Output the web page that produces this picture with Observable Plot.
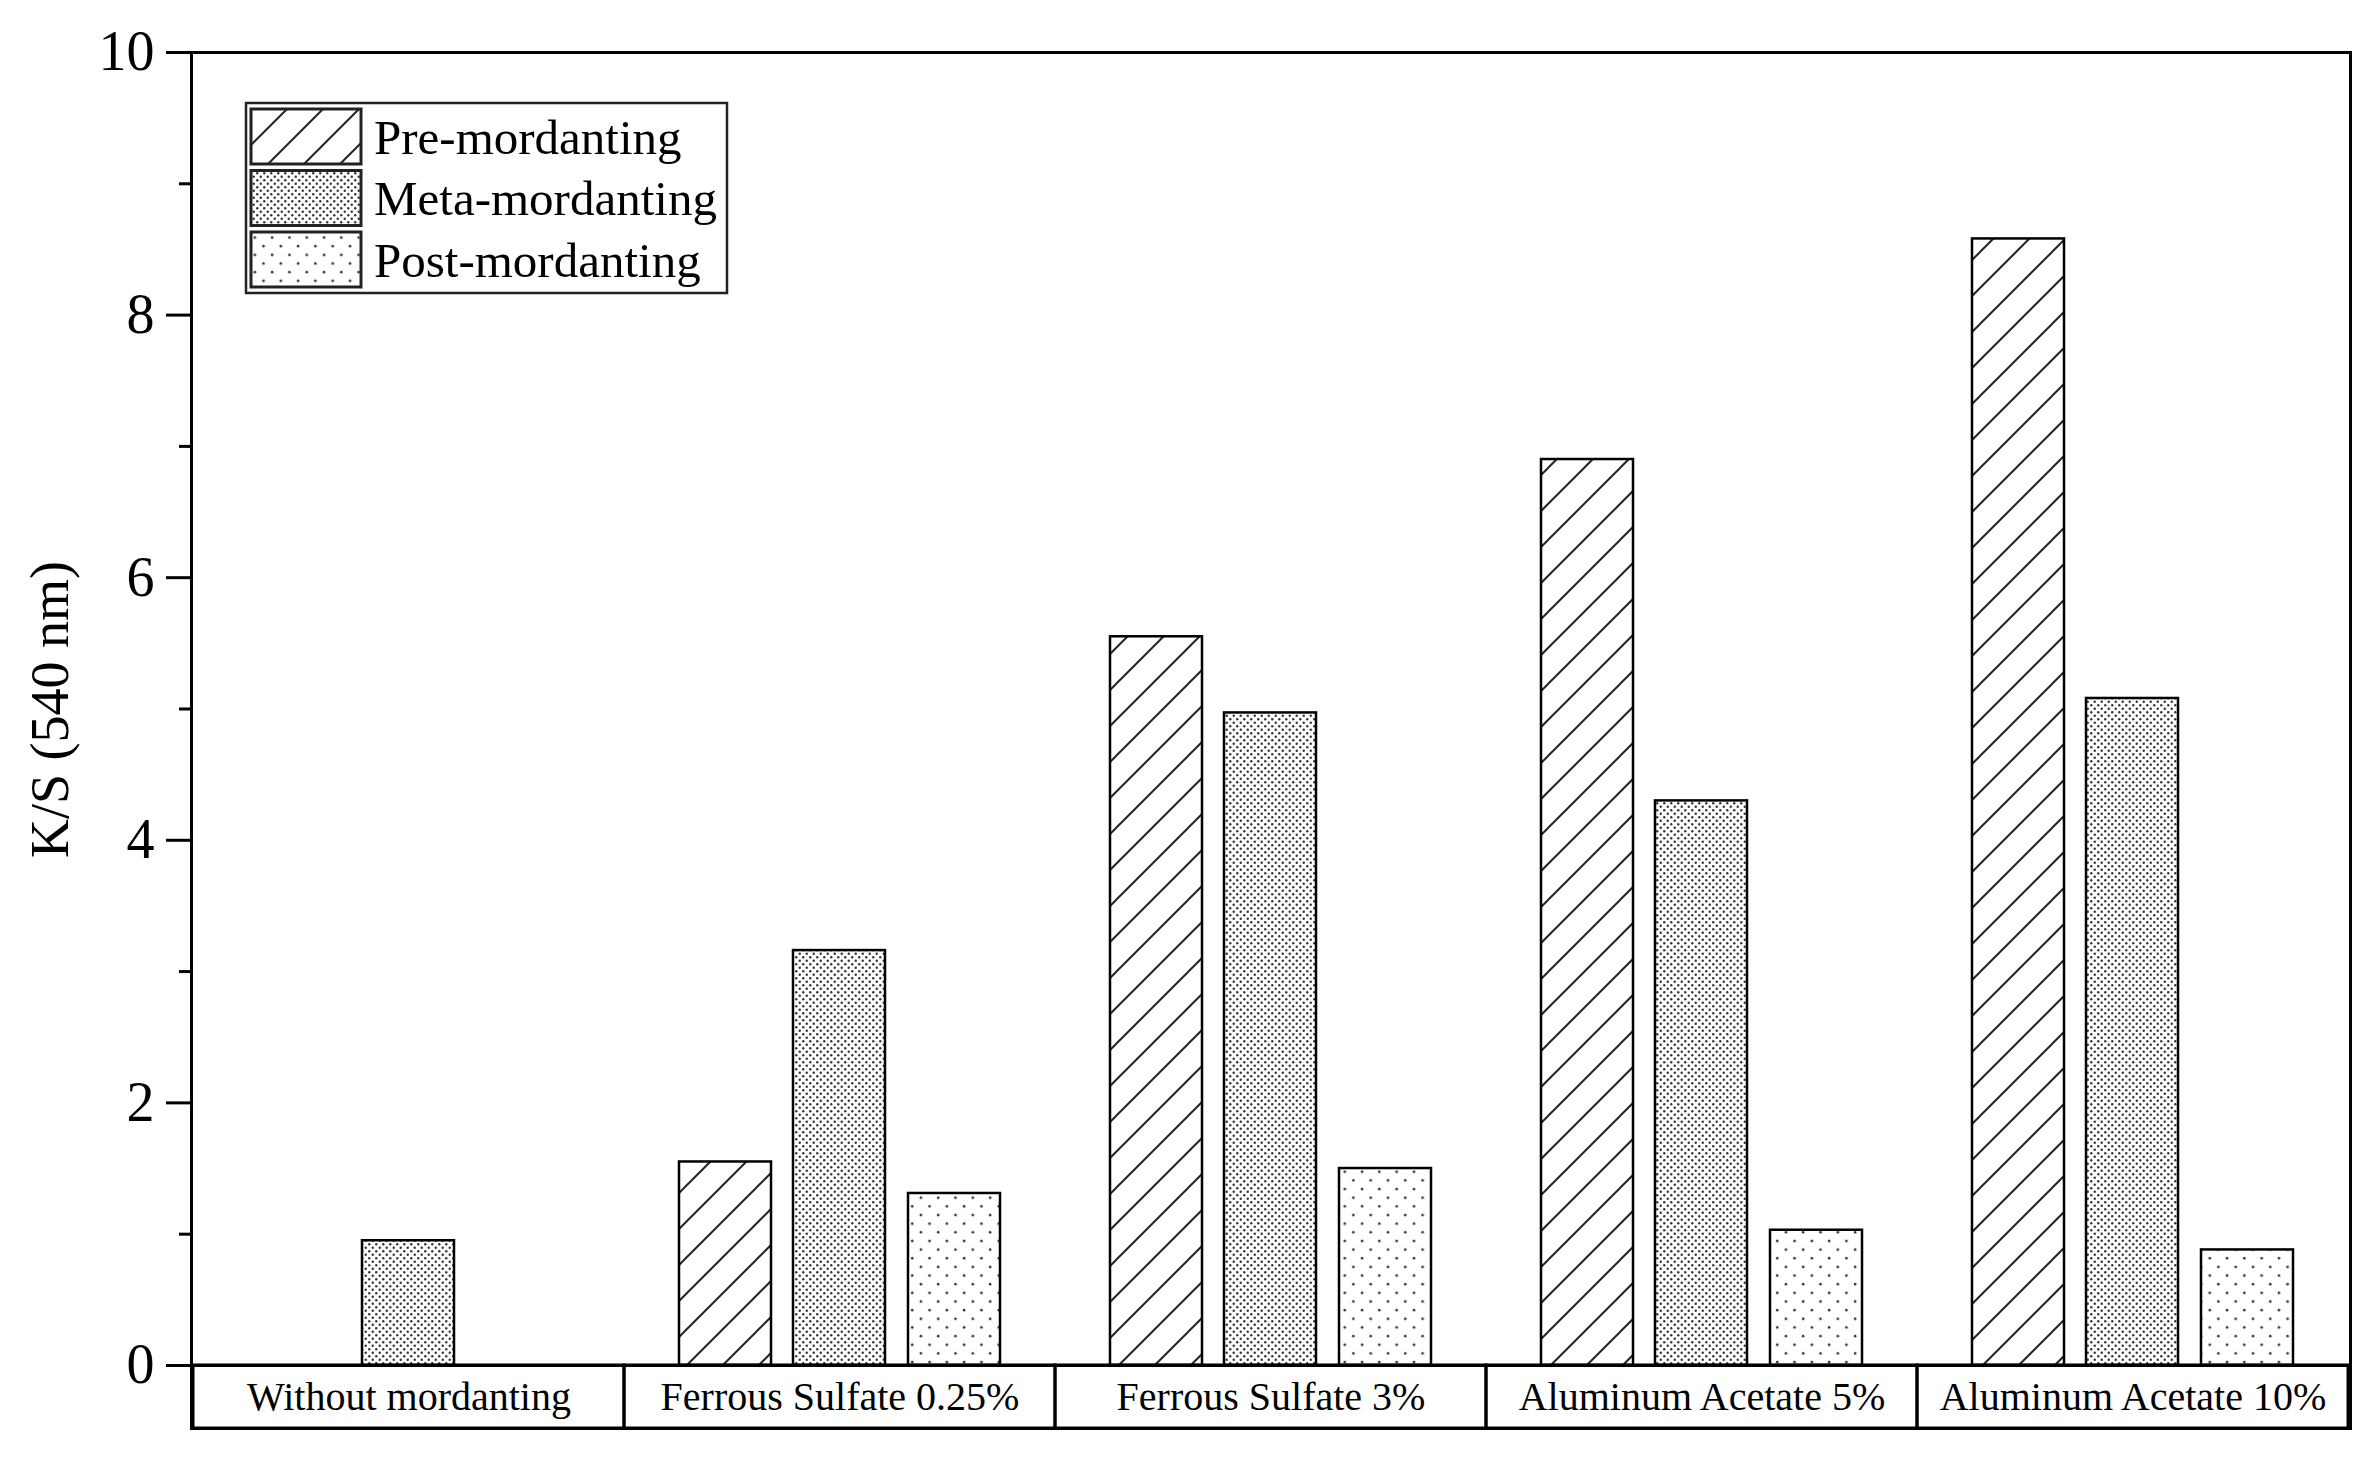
<!DOCTYPE html>
<html><head><meta charset="utf-8">
<script src="https://cdn.jsdelivr.net/npm/d3@7"></script>
<script src="https://cdn.jsdelivr.net/npm/@observablehq/plot@0.6"></script>
<style>body{margin:0;background:#fff} #chart{width:2380px;height:1463px}</style>
</head><body><div id="chart"></div>
<script>
const categories = ["Without mordanting","Ferrous Sulfate 0.25%","Ferrous Sulfate 3%","Aluminum Acetate 5%","Aluminum Acetate 10%"];
const series = ["Pre-mordanting","Meta-mordanting","Post-mordanting"];
const preValues = [null, 1.55, 5.55, 6.90, 8.58];
const metaValues = [0.95, 3.16, 4.97, 4.30, 5.08];
const postValues = [null, 1.31, 1.50, 1.03, 0.88];
const yTicks = [0, 2, 4, 6, 8, 10];
const yMinorTicks = [1, 3, 5, 7, 9];
const yLabel = "K/S (540 nm)";
const patternIds = ["hatch", "dense", "sparse"];

const valuesBySeries = [preValues, metaValues, postValues];
const rows = categories.flatMap((c, i) => series.map((s, j) => ({category: c, series: s, value: valuesBySeries[j][i]})));

const font = "'Liberation Serif','Times New Roman',serif";
const insets = [[55, 284], [169, 170], [284, 55]];

const barMarks = series.map((s, j) => Plot.barY(rows.filter(d => d.series === s), {
  x: "category", y: "value",
  fill: `url(#${patternIds[j]})`, stroke: "black", strokeWidth: 2.5,
  insetLeft: insets[j][0], insetRight: insets[j][1]
}));

const plot = Plot.plot({
  width: 2380, height: 1463,
  marginLeft: 191, marginRight: 30, marginTop: 52, marginBottom: 35,
  style: {fontFamily: font, background: "white", color: "black"},
  x: {type: "band", domain: categories, padding: 0, axis: null},
  y: {domain: [-0.48, 10]},
  marks: [
    ...barMarks,
    Plot.barY(categories, {x: d => d, y1: -0.48, y2: 0, fill: "none", stroke: "black", strokeWidth: 3}),
    Plot.text(categories, {x: d => d, y: -0.24, fontSize: 40, fontFamily: font, fill: "black"}),
    Plot.ruleY([0], {stroke: "black", strokeWidth: 3}),
    Plot.frame({stroke: "black", strokeWidth: 3}),
    Plot.axisY(yTicks, {tickSize: 25, tickPadding: 12, fontSize: 56, strokeWidth: 3, label: null, fontFamily: font, tickFormat: d => String(d)}),
    Plot.axisY(yMinorTicks, {tickSize: 12, tickFormat: () => "", strokeWidth: 3, label: null}),
    Plot.text([yLabel], {frameAnchor: "left", textAnchor: "middle", dx: -141, dy: -31, rotate: -90, fontSize: 54, fontFamily: font, fill: "black"})
  ]
});

const svg = d3.select(plot);
const defs = svg.insert("defs", ":first-child");
// Diagonal hatch
const h = defs.append("pattern").attr("id", "hatch").attr("patternUnits", "userSpaceOnUse").attr("width", 36).attr("height", 36);
h.append("rect").attr("width", 36).attr("height", 36).attr("fill", "white");
h.append("path").attr("d", "M0,36L36,0M-9,9L9,-9M27,45L45,27").attr("stroke", "#222").attr("stroke-width", 2);
// Dense dots
const dn = defs.append("pattern").attr("id", "dense").attr("patternUnits", "userSpaceOnUse").attr("width", 7).attr("height", 7);
dn.append("rect").attr("width", 7).attr("height", 7).attr("fill", "white");
dn.append("circle").attr("cx", 1.75).attr("cy", 1.75).attr("r", 1.2).attr("fill", "#333");
dn.append("circle").attr("cx", 5.25).attr("cy", 5.25).attr("r", 1.2).attr("fill", "#333");
// Sparse dots
const sp = defs.append("pattern").attr("id", "sparse").attr("patternUnits", "userSpaceOnUse").attr("width", 17.3).attr("height", 17.3);
sp.append("rect").attr("width", 17.3).attr("height", 17.3).attr("fill", "white");
sp.append("circle").attr("cx", 4).attr("cy", 4).attr("r", 1.3).attr("fill", "#333");
sp.append("circle").attr("cx", 12.65).attr("cy", 12.65).attr("r", 1.3).attr("fill", "#333");

// Legend
const lg = svg.append("g").attr("class", "legend").attr("text-anchor", "start");
lg.append("rect").attr("x", 246).attr("y", 103).attr("width", 481).attr("height", 190)
  .attr("fill", "white").attr("stroke", "#222").attr("stroke-width", 2.5);
series.forEach((s, j) => {
  const y0 = 109 + j * 61.5;
  lg.append("rect").attr("x", 251).attr("y", y0).attr("width", 110).attr("height", 55)
    .attr("fill", `url(#${patternIds[j]})`).attr("stroke", "#222").attr("stroke-width", 3);
  lg.append("text").attr("x", 374).attr("y", y0 + 27.5).attr("dy", "0.35em").attr("text-anchor", "start")
    .attr("font-family", font).attr("font-size", 49).attr("fill", "black").text(s);
});

document.getElementById("chart").appendChild(plot);
</script>
</body></html>
